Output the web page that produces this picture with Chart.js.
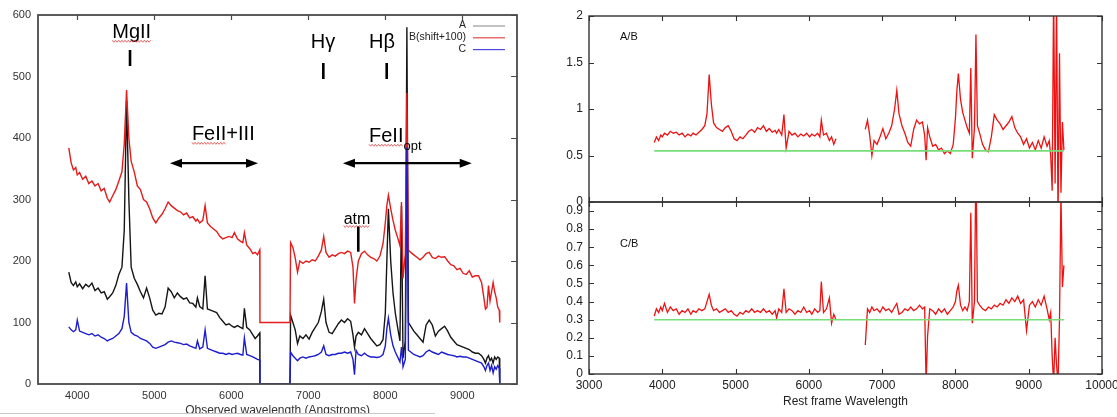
<!DOCTYPE html>
<html><head><meta charset="utf-8">
<script src="https://cdn.jsdelivr.net/npm/chart.js@4.4.1/dist/chart.umd.min.js"></script>
<style>
html,body{margin:0;padding:0;background:#fff;width:1117px;height:417px;overflow:hidden;position:relative;}
.box{position:absolute;}
#cutmask{position:absolute;left:0;top:414px;width:545px;height:3px;background:#fff;}
#cutline{position:absolute;left:0;top:413px;width:435px;height:1px;background:#c8c8c8;}
</style></head><body>
<div class="box" style="left:0;top:0;"><canvas id="cObs" width="545" height="417"></canvas></div>
<div class="box" style="left:545px;top:0;"><canvas id="cAB" width="600" height="220"></canvas></div>
<div class="box" style="left:545px;top:185px;"><canvas id="cCB" width="600" height="232"></canvas></div>
<div id="cutmask"></div><div id="cutline"></div>
<script>
// ---------------- DATA ----------------
// observed wavelength grid, blue segment and red segment (Angstroms)
const wave1 = [3890,3920,3950,3980,4000,4030,4070,4110,4150,4190,
  4230,4270,4310,4350,4390,4420,4460,4500,4540,4580,
  4610,4640,4670,4700,4740,4780,4820,4860,4900,4940,
  4980,5020,5060,5100,5140,5180,5220,5260,5300,5340,
  5380,5420,5460,5500,5540,5560,5590,5630,5660,5690,
  5730,5770,5810,5850,5890,5930,5970,6010,6040,6080,
  6120,6150,6170,6200,6240,6280,6310,6340,6370];
const wave2 = [6770,6800,6830,6860,6890,6930,6970,7010,7050,7090,
  7130,7170,7200,7230,7270,7310,7350,7390,7430,7470,
  7510,7550,7580,7600,7620,7650,7690,7730,7770,7810,
  7850,7890,7930,7970,8000,8020,8040,8070,8100,8130,
  8160,8190,8210,8230,8260,8280,8300,8330,8370,8410,
  8450,8490,8530,8570,8610,8650,8690,8730,8770,8810,
  8850,8890,8930,8970,9010,9050,9090,9130,9170,9210,
  9250,9280,9300,9320,9340,9360,9380,9400,9420,9440,
  9460,9480];
// wavelengths of the detector gap edges and of the end of the spectrum
const gapWave = [6372, 6762];
const gapFlux = [0, 0];
const endWave = [9486];
const endFlux = [0];

// spectrum A
const specA1 = [182,165,160,166,158,163,155,162,158,164,
  152,156,148,150,138,142,148,160,178,190,
  250,460,300,190,172,162,150,140,156,140,
  120,112,115,114,125,156,150,140,148,142,
  138,140,132,131,125,140,126,122,176,122,
  120,118,116,108,102,96,98,94,92,95,
  92,90,123,92,88,80,74,78,83];
const specA2 = [112,100,88,66,78,74,80,73,84,92,
  100,118,138,100,84,82,90,98,104,100,
  106,102,80,60,78,84,80,90,82,74,
  68,62,64,72,115,200,285,200,148,115,
  92,70,290,42,70,580,100,94,86,80,
  74,68,96,104,96,78,86,90,94,86,
  76,70,64,62,60,58,56,52,50,50,
  46,40,34,42,46,38,42,34,44,40,
  44,42];
// spectrum B (unshifted; plotted with +100)
const specB1 = [284,260,248,252,240,244,233,238,226,230,
  222,226,214,218,202,196,206,216,230,245,
  290,378,300,262,245,222,216,200,196,185,
  170,162,170,176,185,196,190,186,182,180,
  175,178,170,172,165,168,162,166,190,162,
  156,152,148,140,136,138,140,138,146,136,
  132,130,146,126,120,112,114,110,118];
const specB2 = [130,122,105,82,100,96,100,98,102,100,
  108,118,140,114,106,110,108,112,114,112,
  116,114,90,31,70,100,112,116,110,106,
  104,100,108,128,162,190,207,185,166,150,
  138,125,196,72,112,373,118,114,110,106,
  102,106,112,114,106,104,108,106,107,100,
  94,92,86,88,80,78,84,74,76,76,
  65,40,22,25,60,35,50,65,50,40,
  25,20];
const shiftB = 100;
// spectrum C
const specC1 = [93,88,85,88,104,86,84,82,80,82,
  78,80,76,74,70,72,74,78,82,90,
  110,164,100,84,80,78,74,72,70,66,
  60,58,60,62,64,68,70,68,67,66,
  64,65,62,60,58,70,57,60,88,58,
  56,54,52,50,50,48,50,48,49,50,
  48,47,75,48,46,44,42,40,39];
const specC2 = [52,46,42,38,42,44,42,44,45,46,
  48,52,62,48,46,48,48,50,50,52,
  50,52,40,15,55,48,46,50,46,44,
  44,43,44,48,62,90,107,80,62,52,
  44,36,60,28,40,385,55,52,48,46,
  44,46,52,55,52,50,48,52,50,48,
  47,46,44,45,44,44,42,40,38,36,
  34,28,22,30,34,22,30,18,28,24,
  30,26];
// ratios
const ratioAB1 = [0.64,0.70,0.66,0.72,0.70,0.74,0.72,0.76,0.74,0.75,
  0.72,0.74,0.70,0.73,0.71,0.74,0.72,0.75,0.78,0.82,
  0.95,1.37,1.05,0.85,0.80,0.78,0.76,0.80,0.82,0.76,
  0.68,0.66,0.70,0.68,0.72,0.76,0.78,0.75,0.80,0.78,
  0.82,0.76,0.79,0.75,0.77,0.74,0.78,0.72,0.94,0.58,
  0.76,0.72,0.74,0.70,0.73,0.71,0.74,0.70,0.73,0.71,
  0.74,0.70,0.88,0.72,0.74,0.66,0.70,0.62,0.68];
const ratioAB2 = [0.78,0.88,0.72,0.50,0.66,0.62,0.70,0.79,0.68,0.74,
  0.82,1.00,1.20,0.95,0.82,0.74,0.64,0.60,0.78,0.88,
  0.84,0.86,0.72,0.45,0.80,0.70,0.60,0.62,0.56,0.58,
  0.52,0.55,0.52,0.62,0.90,1.20,1.38,1.10,0.96,0.88,
  0.80,0.74,1.44,0.47,0.80,1.80,0.82,0.74,0.62,0.56,
  0.54,0.70,0.94,0.88,0.84,0.78,0.82,0.86,0.92,0.80,
  0.74,0.70,0.62,0.68,0.58,0.64,0.56,0.66,0.58,0.70,
  0.60,0.66,0.50,0.12,2.30,0.20,2.20,-0.20,1.60,0.10,
  0.86,0.56];
const ratioCB1 = [0.32,0.36,0.34,0.37,0.35,0.39,0.34,0.37,0.35,0.36,
  0.33,0.35,0.34,0.36,0.33,0.35,0.34,0.36,0.35,0.36,
  0.40,0.44,0.38,0.35,0.36,0.34,0.35,0.36,0.34,0.35,
  0.33,0.32,0.34,0.33,0.35,0.34,0.36,0.34,0.35,0.34,
  0.36,0.34,0.35,0.33,0.35,0.31,0.36,0.34,0.47,0.34,
  0.36,0.35,0.33,0.35,0.34,0.37,0.34,0.35,0.33,0.36,
  0.34,0.35,0.51,0.34,0.36,0.42,0.28,0.33,0.30];
const ratioCB2 = [0.16,0.36,0.34,0.37,0.35,0.36,0.34,0.37,0.35,0.36,
  0.34,0.37,0.39,0.33,0.34,0.36,0.35,0.37,0.35,0.36,
  0.38,0.36,0.37,-0.05,0.21,0.36,0.35,0.33,0.36,0.34,
  0.36,0.33,0.35,0.37,0.40,0.46,0.49,0.38,0.35,0.37,
  0.35,0.40,0.89,0.28,0.40,1.20,0.40,0.38,0.36,0.35,
  0.37,0.36,0.38,0.37,0.39,0.38,0.41,0.39,0.42,0.40,
  0.43,0.39,0.41,0.24,0.38,0.40,0.37,0.41,0.38,0.43,
  0.36,0.30,0.34,0.10,-0.05,0.20,0.05,-0.05,0.30,1.00,
  0.48,0.60];
const levelAB = 0.55;
const levelCB = 0.3;

const seriesNames = ['A', 'B(shift+100)', 'C'];
const obsWaveTicks = [4000,5000,6000,7000,8000,9000];
const obsFluxTicks = [0,100,200,300,400,500,600];
const restWaveTicks = [3000,4000,5000,6000,7000,8000,9000,10000];
const abTicks = [0,0.5,1,1.5,2];
const abTickLabels = ['0','0.5','1','1.5','2'];
const cbTicks = [0,0.1,0.2,0.3,0.4,0.5,0.6,0.7,0.8,0.9];
const cbTickLabels = ['0','0.1','0.2','0.3','0.4','0.5','0.6','0.7','0.8','0.9'];
const obsXTitle = 'Observed wavelength (Angstroms)';
const restXTitle = 'Rest frame Wavelength';

// ---------------- BUILD ----------------
const FONT = '"Liberation Sans", Arial, Helvetica, sans-serif';
Chart.defaults.font.family = FONT;
Chart.defaults.color = '#222';

const pts = (w, v, add = 0) => w.map((x, i) => ({x, y: v[i] + add}));
const spectrum = (v1, v2, add) => [
  ...pts(wave1, v1, add), ...pts(gapWave, gapFlux, add),
  ...pts(wave2, v2, add), ...pts(endWave, endFlux, add)];
const ratio = (v1, v2) => [...pts(wave1, v1), {x: gapWave[0], y: null}, ...pts(wave2, v2)];
const level = (v) => [{x: wave1[0], y: v}, {x: wave2[wave2.length - 1], y: v}];

const decor = {
  id: 'decor',
  afterDatasetsDraw(chart, args, o) {
    const {ctx, chartArea: a, scales} = chart;
    const xs = scales.x, ys = scales.y;
    ctx.save();
    ctx.strokeStyle = o.tickColor; ctx.lineWidth = o.tickWidth;
    ctx.beginPath();
    xs.ticks.forEach(t => {
      const p = Math.round(xs.getPixelForValue(t.value)) + 0.5;
      if (o.xTop) { ctx.moveTo(p, a.top); ctx.lineTo(p, a.top + o.xTop); }
      if (o.xBottom) { ctx.moveTo(p, a.bottom); ctx.lineTo(p, a.bottom - o.xBottom); }
    });
    ys.ticks.forEach(t => {
      const p = Math.round(ys.getPixelForValue(t.value)) + 0.5;
      if (o.yLeft) { ctx.moveTo(a.left, p); ctx.lineTo(a.left + o.yLeft, p); }
      if (o.yRight) { ctx.moveTo(a.right, p); ctx.lineTo(a.right - o.yRight, p); }
    });
    ctx.stroke();
    ctx.strokeStyle = o.frameColor; ctx.lineWidth = o.frameWidth;
    ctx.strokeRect(a.left, a.top, a.right - a.left, a.bottom - a.top);
    ctx.restore();
  }
};

function squiggle(ctx, x1, x2, y) {
  ctx.save(); ctx.strokeStyle = '#e04040'; ctx.lineWidth = 0.8; ctx.beginPath();
  let k = 0;
  for (let xx = x1; xx <= x2; xx += 1.6, k++) {
    const yy = y + (k % 2 ? 1 : -1);
    if (k === 0) ctx.moveTo(xx, yy); else ctx.lineTo(xx, yy);
  }
  ctx.stroke(); ctx.restore();
}

const obsNotes = {
  labels: [
    {text: 'MgII', wl: 4707, flux: 571, size: 20, wavy: [0, 4]},
    {text: 'H\u03B3', wl: 7191, flux: 555, size: 20},
    {text: 'H\u03B2', wl: 7957, flux: 555, size: 20},
    {text: 'FeII+III', wl: 5896, flux: 405, size: 20, wavy: [0, 4]},
    {text: 'atm', wl: 7632, flux: 267, size: 16, wavy: [0, 3]}
  ],
  markers: [
    {wl: 4685, f1: 543, f2: 517},
    {wl: 7195, f1: 522, f2: 496},
    {wl: 8018, f1: 522, f2: 496},
    {wl: 7649, f1: 256, f2: 215}
  ],
  arrows: [
    {w1: 5204, w2: 6347, flux: 359},
    {w1: 7450, w2: 9122, flux: 359}
  ],
  subLabel: {main: 'FeII', sub: 'opt', wl: 7788, flux: 402}
};
const legendColors = ['#9a9a9a', '#e04a4a', '#4a4ae0'];

const obsPlugin = {
  id: 'obsNotes',
  afterDatasetsDraw(chart) {
    const {ctx, chartArea: a, scales: {x, y}} = chart;
    const px = v => x.getPixelForValue(v), py = v => y.getPixelForValue(v);
    ctx.save();
    ctx.fillStyle = '#000'; ctx.strokeStyle = '#000';
    ctx.textBaseline = 'middle';
    for (const n of obsNotes.labels) {
      ctx.font = n.size + 'px ' + FONT;
      ctx.textAlign = 'center';
      const cx = px(n.wl), cy = py(n.flux);
      ctx.fillText(n.text, cx, cy);
      if (n.wavy) {
        const w = ctx.measureText(n.text).width, left = cx - w / 2;
        const s = ctx.measureText(n.text.slice(0, n.wavy[0])).width;
        const e = ctx.measureText(n.text.slice(0, n.wavy[1])).width;
        squiggle(ctx, left + s, left + e, cy + n.size * 0.42);
      }
    }
    const sl = obsNotes.subLabel;
    ctx.textAlign = 'left';
    ctx.font = '20px ' + FONT;
    const lx = px(sl.wl), ly = py(sl.flux);
    ctx.fillText(sl.main, lx, ly);
    const mw = ctx.measureText(sl.main).width;
    squiggle(ctx, lx, lx + mw, ly + 8.5);
    ctx.font = '13px ' + FONT;
    ctx.fillText(sl.sub, lx + mw, ly + 10);
    ctx.lineWidth = 2.6;
    ctx.beginPath();
    for (const m of obsNotes.markers) {
      const mx = px(m.wl);
      ctx.moveTo(mx, py(m.f1)); ctx.lineTo(mx, py(m.f2));
    }
    ctx.stroke();
    for (const ar of obsNotes.arrows) {
      const x1 = px(ar.w1), x2 = px(ar.w2), yy = py(ar.flux);
      ctx.lineWidth = 2.2;
      ctx.beginPath(); ctx.moveTo(x1 + 8, yy); ctx.lineTo(x2 - 8, yy); ctx.stroke();
      ctx.beginPath();
      ctx.moveTo(x1, yy); ctx.lineTo(x1 + 12, yy - 4.5); ctx.lineTo(x1 + 12, yy + 4.5); ctx.closePath();
      ctx.moveTo(x2, yy); ctx.lineTo(x2 - 12, yy - 4.5); ctx.lineTo(x2 - 12, yy + 4.5); ctx.closePath();
      ctx.fill();
    }
    // legend
    ctx.font = '10.5px ' + FONT; ctx.textAlign = 'right'; ctx.fillStyle = '#222';
    seriesNames.forEach((nm, i) => {
      const yy = a.top + 10.5 + i * 11.8;
      ctx.fillText(nm, a.right - 51, yy);
      ctx.strokeStyle = legendColors[i]; ctx.lineWidth = 1.2;
      ctx.beginPath(); ctx.moveTo(a.right - 44, yy + 0.5); ctx.lineTo(a.right - 12, yy + 0.5); ctx.stroke();
    });
    // axis title
    ctx.font = '12px ' + FONT; ctx.textAlign = 'center'; ctx.fillStyle = '#333';
    ctx.fillText(obsXTitle, (a.left + a.right) / 2, 411);
    ctx.restore();
  }
};

const ratioLabel = {
  id: 'ratioLabel',
  afterDatasetsDraw(chart, args, o) {
    const {ctx, chartArea: a, scales: {x, y}} = chart;
    ctx.save();
    ctx.font = '11px ' + FONT; ctx.fillStyle = '#111';
    ctx.textAlign = 'left'; ctx.textBaseline = 'middle';
    ctx.fillText(o.text, x.getPixelForValue(o.wl), y.getPixelForValue(o.val));
    if (o.title) {
      ctx.font = '12px ' + FONT; ctx.textAlign = 'center'; ctx.fillStyle = '#222';
      ctx.fillText(o.title, (a.left + a.right) / 2, a.bottom + 28);
    }
    ctx.restore();
  }
};

const tickSet = (arr) => (s) => { s.ticks = arr.map(v => ({value: v})); };

// ----- observed spectra -----
new Chart(document.getElementById('cObs'), {
  type: 'line',
  data: {
    datasets: [
      {label: seriesNames[2], data: spectrum(specC1, specC2, 0), borderColor: '#1c1cd0', order: 0},
      {label: seriesNames[1], data: spectrum(specB1, specB2, shiftB), borderColor: '#e41c1c', order: 1},
      {label: seriesNames[0], data: spectrum(specA1, specA2, 0), borderColor: '#151515', order: 2}
    ].map(d => Object.assign(d, {borderWidth: 1.4, pointRadius: 0, tension: 0, fill: false}))
  },
  options: {
    responsive: false, animation: false, devicePixelRatio: 1,
    layout: {padding: {left: 0, right: 28, top: 15, bottom: 0}},
    plugins: {legend: {display: false}, tooltip: {enabled: false},
      decor: {frameColor: '#4a4a4a', frameWidth: 1.8, tickColor: '#4a4a4a', tickWidth: 1.2, xTop: 5, xBottom: 0, yLeft: 0, yRight: 6}},
    scales: {
      x: {type: 'linear', min: 3490, max: 9710, afterBuildTicks: tickSet(obsWaveTicks),
        afterFit: s => { s.height = 33; },
        grid: {display: false, drawTicks: false}, border: {display: false},
        ticks: {padding: 5, font: {size: 11}, color: '#333', autoSkip: false, maxRotation: 0, callback: v => String(v)}},
      y: {type: 'linear', min: 0, max: 600, afterBuildTicks: tickSet(obsFluxTicks),
        afterFit: s => { s.width = 38; },
        grid: {display: false, drawTicks: false}, border: {display: false},
        ticks: {padding: 7, font: {size: 11}, color: '#333', autoSkip: false, callback: v => String(v)}}
    }
  },
  plugins: [decor, obsPlugin]
});

// ----- ratio charts -----
function ratioChart(id, vals1, vals2, lvl, yMax, yTicks, yLabels, label, labelVal, showX, pad, xHeight) {
  return new Chart(document.getElementById(id), {
    type: 'line',
    data: {datasets: [
      {label: label + ' level', data: level(lvl), borderColor: '#77dd77', borderWidth: 1.6, order: 0},
      {label: label, data: ratio(vals1, vals2), borderColor: '#ee1111', borderWidth: 1.3, order: 1}
    ].map(d => Object.assign(d, {pointRadius: 0, tension: 0, fill: false}))},
    options: {
      responsive: false, animation: false, devicePixelRatio: 1,
      layout: {padding: pad},
      plugins: {legend: {display: false}, tooltip: {enabled: false},
        decor: {frameColor: '#333', frameWidth: 1.4, tickColor: '#333', tickWidth: 1.1, xTop: 5, xBottom: 5, yLeft: 5, yRight: 5},
        ratioLabel: {text: label, wl: 3423, val: labelVal, title: showX ? restXTitle : null}},
      scales: {
        x: {type: 'linear', min: 3000, max: 10000, afterBuildTicks: tickSet(restWaveTicks),
          afterFit: s => { s.height = xHeight; },
          grid: {display: false, drawTicks: false}, border: {display: false},
          ticks: {display: showX, padding: 4, font: {size: 12}, color: '#222', autoSkip: false, maxRotation: 0, callback: v => String(v)}},
        y: {type: 'linear', min: 0, max: yMax, afterBuildTicks: tickSet(yTicks),
          afterFit: s => { s.width = 44; },
          grid: {display: false, drawTicks: false}, border: {display: false},
          ticks: {padding: 6, font: {size: 12}, color: '#222', autoSkip: false,
            callback: (v, i) => yLabels[i]}}
      }
    },
    plugins: [decor, ratioLabel]
  });
}
ratioChart('cAB', ratioAB1, ratioAB2, levelAB, 2, abTicks, abTickLabels, 'A/B', 1.774, false,
  {left: 0, right: 43, top: 16, bottom: 18}, 0);
ratioChart('cCB', ratioCB1, ratioCB2, levelCB, 0.95, cbTicks, cbTickLabels, 'C/B', 0.72, true,
  {left: 0, right: 43, top: 17, bottom: 0}, 43);
</script>
</body></html>
